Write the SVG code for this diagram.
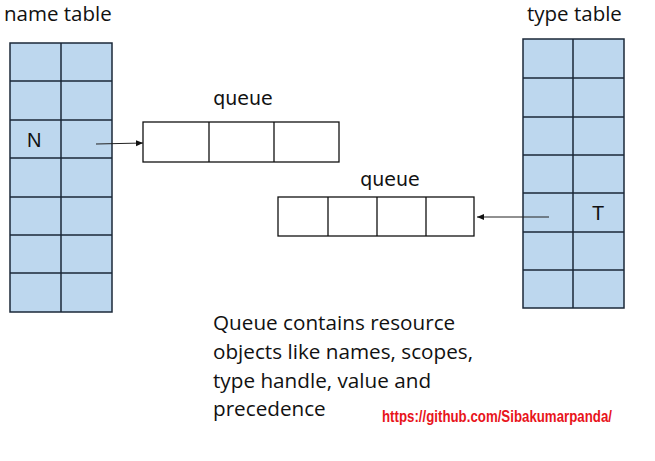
<svg xmlns="http://www.w3.org/2000/svg" width="655" height="461" viewBox="0 0 655 461">
<style>
.cell{fill:#bdd7ee;stroke:#1b2838;stroke-width:1.5}
.q{fill:#fff;stroke:#111;stroke-width:1.3}
.ttl{font-family:"Open Sans",sans-serif;font-size:20.5px;fill:#111}
.lbl{font-family:"DejaVu Sans",sans-serif;font-size:19px;fill:#111}
.big{font-family:"Liberation Sans",sans-serif;font-size:20px;fill:#111}
.body{font-family:"Open Sans",sans-serif;font-size:20.7px;fill:#111}
.url{font-family:"Liberation Sans",sans-serif;font-size:16px;font-weight:bold;fill:#e8141b}
.conn{stroke:#222;stroke-width:1;fill:none}
</style>
<defs>
<marker id="ah" markerWidth="8" markerHeight="8" refX="7" refY="4" orient="auto" markerUnits="userSpaceOnUse">
<path d="M0,1 L7,4 L0,7 Z" fill="#111"/>
</marker>
</defs>
<g id="name-table">
<text class="ttl" x="4" y="21">name table</text>
<rect class="cell" x="10" y="43" width="102" height="269"/>
<path class="cell" d="M61,43V312M10,81H112M10,120H112M10,158H112M10,197H112M10,235H112M10,273H112"/>
<text class="big" x="27" y="147">N</text>
</g>
<g id="type-table">
<text class="ttl" x="527" y="21">type table</text>
<rect class="cell" x="523" y="39" width="101" height="269"/>
<path class="cell" d="M573,39V308M523,78H624M523,117H624M523,155H624M523,193H624M523,232H624M523,270H624"/>
<text class="big" x="592" y="220">T</text>
</g>
<g id="queue1">
<text class="lbl" x="243" y="105" text-anchor="middle">queue</text>
<rect class="q" x="143" y="122" width="196" height="40"/>
<path class="q" d="M209,122V162M274,122V162"/>
</g>
<g id="queue2">
<text class="lbl" x="390" y="186" text-anchor="middle">queue</text>
<rect class="q" x="278" y="197" width="196" height="39"/>
<path class="q" d="M328,197V236M377,197V236M426,197V236"/>
</g>
<g id="connectors">
<line class="conn" x1="96" y1="144" x2="143" y2="143" marker-end="url(#ah)"/>
<line class="conn" x1="549" y1="217" x2="477" y2="217" marker-end="url(#ah)"/>
</g>
<g id="note">
<text class="body" x="213" y="330">Queue contains resource</text>
<text class="body" x="213" y="359">objects like names, scopes,</text>
<text class="body" x="213" y="388">type handle, value and</text>
<text class="body" x="213" y="416">precedence</text>
<text class="url" transform="translate(382,422) scale(0.83,1)">https://github.com/Sibakumarpanda/</text>
</g>
</svg>
